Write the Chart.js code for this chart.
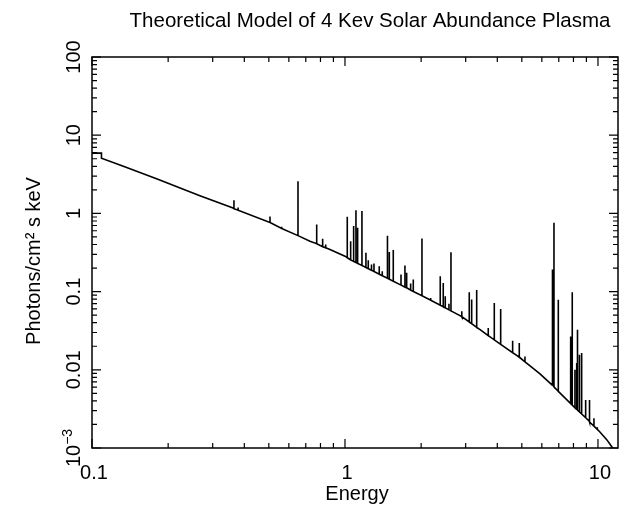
<!DOCTYPE html>
<html>
<head>
<meta charset="utf-8">
<title>Theoretical Model of 4 Kev Solar Abundance Plasma</title>
<script src="https://cdn.jsdelivr.net/npm/chart.js@4.4.1/dist/chart.umd.min.js"></script>
<style>
  body { margin: 0; background: #fff; }
  #wrap { width: 633px; height: 507px; }
</style>
</head>
<body>
<div id="wrap"><canvas id="myChart" width="633" height="507"></canvas></div>
<script>
// continuum (keV, photons/cm^2 s keV)
var continuumEnergy = [0.1, 0.109, 0.109, 0.133, 0.181, 0.267, 0.361, 0.505, 0.652, 0.727, 0.872,
  1.0, 1.047, 1.65, 2.44, 2.90, 3.42, 4.10, 4.92, 5.39, 5.90, 6.58, 7.97, 9.30, 10.18, 10.85, 11.36, 12.0];
var continuumFlux = [5.9, 5.9, 5.07, 4.0, 2.75, 1.68, 1.17, 0.767, 0.52, 0.44, 0.3455,
  0.2836, 0.2572, 0.1229, 0.0642, 0.0478, 0.0326, 0.0215, 0.01425, 0.01125, 0.00889, 0.00642, 0.003455,
  0.00215, 0.0016, 0.00127, 0.00103, 0.0008];

// emission lines: energy, continuum level under the line, line top
var lineEnergy = [0.364, 0.378, 0.5054, 0.562, 0.652, 0.773, 0.816, 0.839, 1.021, 1.053, 1.082, 1.105,
  1.122, 1.167, 1.21, 1.236, 1.273, 1.302, 1.366, 1.404, 1.472, 1.497, 1.552, 1.665, 1.726, 1.753,
  1.818, 1.862, 2.015, 2.182, 2.38, 2.446, 2.491, 2.576, 2.624, 2.893, 3.099, 3.168, 3.316, 3.684,
  3.892, 4.125, 4.60, 4.886, 5.145, 6.61, 6.70, 6.97, 7.80, 7.913, 8.11, 8.24, 8.30, 8.45, 8.62,
  8.94, 9.24, 9.64, 9.94];
var lineBase = [1.15, 1.1, 0.767, 0.642, 0.52, 0.41, 0.376, 0.363, 0.271, 0.2545, 0.2435, 0.2353,
  0.2296, 0.2154, 0.203, 0.1963, 0.1873, 0.1805, 0.1669, 0.1597, 0.1479, 0.144, 0.1357, 0.1212, 0.114, 0.1122,
  0.1045, 0.1006, 0.0884, 0.0774, 0.0669, 0.0638, 0.062, 0.0586, 0.0567, 0.0481, 0.0409, 0.0389, 0.0348, 0.0274,
  0.0242, 0.0212, 0.01656, 0.01446, 0.01267, 0.00642, 0.00605, 0.00531, 0.0037, 0.00353, 0.00327, 0.00313, 0.00306, 0.00289, 0.00272,
  0.00244, 0.0022, 0.0019, 0.00173];
var linePeak = [1.47, 1.19, 0.915, 0.675, 2.57, 0.723, 0.474, 0.40, 0.907, 0.441, 0.688, 1.10,
  0.656, 1.07, 0.313, 0.252, 0.222, 0.229, 0.211, 0.182, 0.518, 0.321, 0.341, 0.165, 0.215, 0.174,
  0.127, 0.1425, 0.478, 0.083, 0.157, 0.129, 0.087, 0.070, 0.319, 0.0559, 0.098, 0.079, 0.1045, 0.0342,
  0.0716, 0.060, 0.0235, 0.022, 0.0148, 0.191, 0.76, 0.0789, 0.0267, 0.098, 0.010, 0.0122, 0.0326, 0.01557, 0.01637,
  0.00412, 0.00412, 0.0024, 0.00184];

// axes
var xMin = 0.1, xMax = 12;
var yMin = 0.001, yMax = 100;
var xTickValues = [0.1, 1, 10];
var xTickLabels = ['0.1', '1', '10'];
var yTickValues = [0.01, 0.1, 1, 10, 100];
var yTickLabels = ['0.01', '0.1', '1', '10', '100'];

var FONT = '"Liberation Sans", Arial, Helvetica, sans-serif';

// one polyline: continuum with each line as an up-and-down spike
var spectrum = [];
continuumEnergy.forEach(function (e, i) {
  spectrum.push({ x: e, y: continuumFlux[i] });
});
lineEnergy.forEach(function (e, i) {
  spectrum.push({ x: e, y: lineBase[i] });
  spectrum.push({ x: e, y: linePeak[i] });
  spectrum.push({ x: e, y: lineBase[i] });
});
spectrum.sort(function (a, b) { return a.x - b.x; });

// frame, inward ticks on all four sides, and all the text
var framePlugin = {
  id: 'frame',
  afterDraw: function (chart) {
    var c = chart.ctx, a = chart.chartArea;
    var xs = chart.scales.x, ys = chart.scales.y;
    c.save();
    c.strokeStyle = '#000';
    c.fillStyle = '#000';
    c.lineWidth = 1.5;
    c.strokeRect(a.left, a.top, a.right - a.left, a.bottom - a.top);

    c.beginPath();
    [0.1, 1, 10].forEach(function (d) {
      for (var k = 1; k <= 9; k++) {
        var v = k * d;
        if (v < xMin || v > xMax) continue;
        var px = xs.getPixelForValue(v), len = k === 1 ? 9 : 5;
        c.moveTo(px, a.bottom); c.lineTo(px, a.bottom - len);
        c.moveTo(px, a.top); c.lineTo(px, a.top + len);
      }
    });
    [0.001, 0.01, 0.1, 1, 10, 100].forEach(function (d) {
      for (var k = 1; k <= 9; k++) {
        var v = k * d;
        if (v < yMin || v > yMax * 1.0001) continue;
        var py = ys.getPixelForValue(v), len = k === 1 ? 9 : 5;
        c.moveTo(a.left, py); c.lineTo(a.left + len, py);
        c.moveTo(a.right, py); c.lineTo(a.right - len, py);
      }
    });
    c.lineWidth = 1.2;
    c.stroke();

    // x tick labels
    c.font = '20px ' + FONT;
    c.textAlign = 'center';
    c.textBaseline = 'alphabetic';
    xTickValues.forEach(function (v, i) {
      c.fillText(xTickLabels[i], xs.getPixelForValue(v) + 2, 479);
    });

    // y tick labels, written upward
    yTickValues.forEach(function (v, i) {
      c.save();
      c.translate(80, ys.getPixelForValue(v));
      c.rotate(-Math.PI / 2);
      c.fillText(yTickLabels[i], 0, 0);
      c.restore();
    });
    // 10^-3 with a raised exponent
    c.save();
    c.translate(80, ys.getPixelForValue(0.001));
    c.rotate(-Math.PI / 2);
    c.textAlign = 'left';
    c.font = '20px ' + FONT;
    var wBase = c.measureText('10').width;
    c.font = '14px ' + FONT;
    var wExp = c.measureText('\u22123').width;
    var x0 = -(wBase + wExp) / 2;
    c.font = '20px ' + FONT;
    c.fillText('10', x0, 0);
    c.font = '14px ' + FONT;
    c.fillText('\u22123', x0 + wBase, -8);
    c.restore();

    // title and axis titles
    c.font = '20.5px ' + FONT;
    c.textAlign = 'center';
    c.fillText('Theoretical Model of 4 Kev Solar Abundance Plasma', 370, 27);
    c.font = '20px ' + FONT;
    c.fillText('Energy', 357, 500);
    c.save();
    c.translate(40, 261);
    c.rotate(-Math.PI / 2);
    c.fillText('Photons/cm\u00b2 s keV', 0, 0);
    c.restore();
    c.restore();
  }
};

var ctx = document.getElementById('myChart').getContext('2d');
var chart = new Chart(ctx, {
  type: 'line',
  data: {
    datasets: [{
      label: 'spectrum',
      data: spectrum,
      borderColor: '#000',
      borderWidth: 1.6,
      pointRadius: 0,
      tension: 0,
      fill: false,
      clip: 0
    }]
  },
  options: {
    responsive: false,
    animation: false,
    devicePixelRatio: 1,
    layout: { padding: { left: 92, right: 15, top: 57, bottom: 59 } },
    plugins: {
      legend: { display: false },
      tooltip: { enabled: false },
      title: { display: false }
    },
    scales: {
      x: { type: 'logarithmic', min: xMin, max: xMax, display: false },
      y: { type: 'logarithmic', min: yMin, max: yMax, display: false }
    }
  },
  plugins: [framePlugin]
});
</script>
</body>
</html>
